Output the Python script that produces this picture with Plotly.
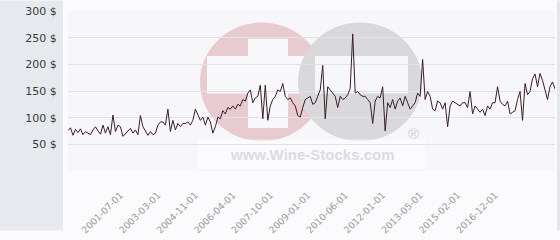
import plotly.graph_objects as go

# ---- data ----
prices = [
    # early period
    76, 81, 67, 78, 72, 79, 68, 74, 71, 68, 77, 83, 75, 69, 86, 71, 83, 68, 105, 74,
    86, 83, 65, 70, 74, 80, 71, 77, 68, 104, 83, 74, 67, 74, 68, 71, 86, 92,
    92, 86, 116, 74, 95, 77, 89, 83, 89, 89, 92, 86, 95, 116, 104, 95, 101, 86, 101, 92,
    71, 83, 101, 98, 113, 107, 119, 116, 122, 116, 125, 122, 134, 131, 146, 152, 128, 137, 140,
    161, 98, 161, 95, 122, 134, 140, 152, 149, 164, 140, 134, 137, 128, 122, 104, 101, 119,
    134, 137, 140, 125, 128, 140, 152, 198, 98, 158, 152, 146, 140, 119, 140, 134, 137, 143, 155, 257,
    146, 149, 143, 140, 140, 134, 128, 89, 131, 140, 137, 158, 75,
    128, 119, 134, 116, 131, 137, 122, 140, 128, 116, 122, 128, 146, 140, 209,
    134, 149, 140, 116, 113, 131, 128, 116, 128, 83, 122, 131, 128, 125, 122, 128, 128, 119, 149, 107,
    122, 116, 110, 116, 104, 122, 116, 128, 128, 158, 131, 125, 122, 131, 107, 110, 113, 134, 149, 95,
    164, 143, 149, 173, 182, 158, 183, 170, 152, 134, 158, 167, 154,
]
tick_labels = ["2001-07-01", "2003-03-01", "2004-11-01", "2006-04-01", "2007-10-01",
               "2009-01-01", "2010-06-01", "2012-01-01", "2013-05-01", "2015-02-01",
               "2016-12-01"]
y_ticks = [0, 50, 100, 150, 200, 250, 300]
y_tick_text = ["" if v == 0 else f"{v} $" for v in y_ticks]

FIRST_TICK = 21
TICK_STEP = 15

x_idx = list(range(len(prices)))
tickvals = [FIRST_TICK + i * TICK_STEP for i in range(len(tick_labels))]

W, H = 560, 240
L, R, T, B = 68, 5, 11, 62
PW, PH = W - L - R, H - T - B


def px(x):
    return (x - L) / PW


def py(y):
    return (H - B - y) / PH


fig = go.Figure()
fig.add_trace(go.Scatter(
    x=x_idx, y=prices, mode="lines",
    line=dict(color="#3b1f27", width=1),
    hoverinfo="skip", showlegend=False,
))

shapes = []
# left and right panels
shapes.append(dict(type="rect", xref="paper", yref="paper", layer="below",
                   x0=px(0), x1=px(63), y0=py(240), y1=py(0),
                   fillcolor="#e6eaee", line=dict(width=0)))
shapes.append(dict(type="rect", xref="paper", yref="paper", layer="below",
                   x0=px(557), x1=px(560), y0=py(240), y1=py(0),
                   fillcolor="#e3e6ea", line=dict(width=0)))
# watermark
shapes.append(dict(type="circle", xref="paper", yref="paper", layer="below",
                   x0=px(200), x1=px(324), y0=py(147), y1=py(23),
                   fillcolor="#e8cad1", line=dict(width=0)))
shapes.append(dict(type="rect", xref="paper", yref="paper", layer="below",
                   x0=px(248), x1=px(288), y0=py(133), y1=py(40),
                   fillcolor="#f9f9fb", line=dict(width=0)))
shapes.append(dict(type="rect", xref="paper", yref="paper", layer="below",
                   x0=px(207), x1=px(318), y0=py(97), y1=py(58),
                   fillcolor="#f9f9fb", line=dict(width=0)))
shapes.append(dict(type="circle", xref="paper", yref="paper", layer="below",
                   x0=px(298), x1=px(422), y0=py(147), y1=py(23),
                   fillcolor="#d9d9db", line=dict(width=0)))
shapes.append(dict(type="rect", xref="paper", yref="paper", layer="below",
                   x0=px(315), x1=px(408), y0=py(97), y1=py(58),
                   fillcolor="#f7f7f9", line=dict(width=0)))
shapes.append(dict(type="rect", xref="paper", yref="paper", layer="below",
                   x0=px(197), x1=px(425), y0=py(176), y1=py(145),
                   fillcolor="rgba(255,255,255,0.55)", line=dict(width=0)))

annotations = [
    dict(text="<b>www.Wine-Stocks.com</b>", xref="paper", yref="paper",
         x=px(312), y=py(161), showarrow=False, xanchor="center", yanchor="middle",
         font=dict(family="Liberation Sans, Arial, sans-serif", size=15, color="#dcdcde")),
    dict(text="®", xref="paper", yref="paper",
         x=px(413), y=py(139), showarrow=False, xanchor="center", yanchor="middle",
         font=dict(family="Liberation Sans, Arial, sans-serif", size=15, color="#d0d0d2")),
]

fig.update_layout(
    width=W, height=H,
    margin=dict(l=L, r=R, t=T, b=B, pad=0),
    paper_bgcolor="#fbfbfd",
    plot_bgcolor="#f7f7fa",
    shapes=shapes,
    annotations=annotations,
    showlegend=False,
    xaxis=dict(
        range=[0, len(prices) - 1],
        tickmode="array", tickvals=tickvals, ticktext=tick_labels,
        tickangle=-45, showgrid=False, zeroline=False, showline=False,
        ticks="outside", ticklen=14, tickcolor="rgba(0,0,0,0)",
        tickfont=dict(family="DejaVu Sans, sans-serif", size=9.3, color="#9a9a9a"),
    ),
    yaxis=dict(
        range=[0, 300],
        tickmode="array", tickvals=y_ticks, ticktext=y_tick_text,
        showgrid=True, gridcolor="#e0e2e7", gridwidth=1,
        zeroline=False, showline=False,
        ticks="outside", ticklen=8, tickcolor="rgba(0,0,0,0)",
        tickfont=dict(family="DejaVu Sans, sans-serif", size=11, color="#3a3a3a"),
    ),
)

fig.write_html("out.html", config={"displayModeBar": False})
